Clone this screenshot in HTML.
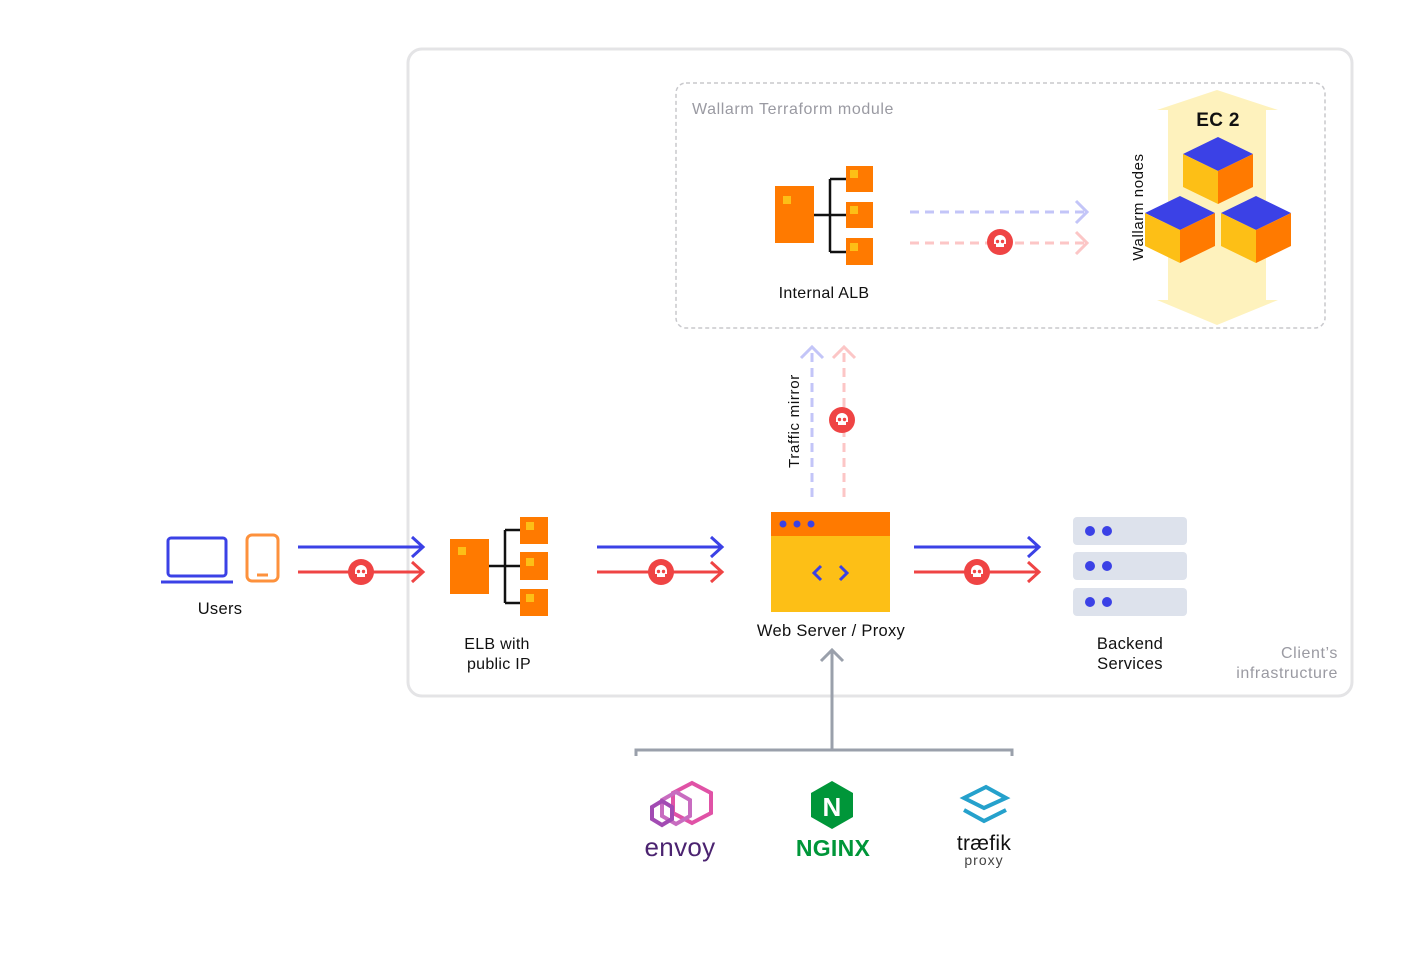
<!DOCTYPE html>
<html><head><meta charset="utf-8"><style>
body{margin:0;background:#fff}
svg text{font-family:"Liberation Sans",sans-serif;letter-spacing:0.3px}
</style></head><body>
<svg width="1422" height="956" viewBox="0 0 1422 956" xmlns="http://www.w3.org/2000/svg">
<defs>
<g id="skull">
<circle r="13" fill="#ef4444"/>
<path d="M-6,-1 a6,6 0 1 1 12,0 v3 h-2 v3 h-8 v-3 h-2z" fill="#fff"/>
<circle cx="-2.5" cy="-0.5" r="1.7" fill="#ef4444"/>
<circle cx="2.5" cy="-0.5" r="1.7" fill="#ef4444"/>
</g>
<g id="cube">
<polygon points="0,0 35,17 0,34 -35,17" fill="#3b41e6"/>
<polygon points="-35,17 0,34 0,67 -35,50" fill="#fdbf16"/>
<polygon points="35,17 0,34 0,67 35,50" fill="#ff7a00"/>
</g>
</defs>
<rect x="408" y="49" width="944" height="647" rx="14" fill="none" stroke="#e4e4e6" stroke-width="3"/>
<rect x="676" y="83" width="649" height="245" rx="10" fill="none" stroke="#c8c8cc" stroke-width="1.5" stroke-dasharray="4 3"/>
<text x="692" y="114" font-size="16" fill="#9a9aa2" style="letter-spacing:0.6px">Wallarm Terraform module</text>
<text x="1338" y="658" font-size="16" fill="#9a9aa2" text-anchor="end" style="letter-spacing:0.6px">Client’s</text>
<text x="1338" y="678" font-size="16" fill="#9a9aa2" text-anchor="end" style="letter-spacing:0.6px">infrastructure</text>

<path d="M814,215 H830 M830,179 V252 M830,179 H846 M830,215 H846 M830,252 H846" stroke="#111" stroke-width="2.5" fill="none"/>
<rect x="775" y="186" width="39" height="57" fill="#ff7a00"/>
<rect x="783" y="196" width="8" height="8" fill="#fdbf16"/>
<rect x="846" y="166" width="27" height="26" fill="#ff7a00"/><rect x="850" y="170" width="8" height="8" fill="#fdbf16"/>
<rect x="846" y="202" width="27" height="26" fill="#ff7a00"/><rect x="850" y="206" width="8" height="8" fill="#fdbf16"/>
<rect x="846" y="238" width="27" height="27" fill="#ff7a00"/><rect x="850" y="243" width="8" height="8" fill="#fdbf16"/>
<text x="824" y="298" font-size="16" fill="#111" text-anchor="middle">Internal ALB</text>

<path d="M910,212 H1086" stroke="#c3c5f8" stroke-width="3" stroke-dasharray="9 6" fill="none"/>
<path d="M1076,201 L1087,212 L1076,223" stroke="#c3c5f8" stroke-width="3" fill="none"/>
<path d="M910,243 H1086" stroke="#fcc6c6" stroke-width="3" stroke-dasharray="9 6" fill="none"/>
<path d="M1076,232 L1087,243 L1076,254" stroke="#fcc6c6" stroke-width="3" fill="none"/>
<use href="#skull" x="1000" y="242"/>

<polygon points="1217,90 1278,110 1266,110 1266,300 1278,300 1217,325 1157,300 1168,300 1168,110 1157,110" fill="#fef2bd"/>
<text x="1218" y="126" font-size="19" font-weight="bold" fill="#111" text-anchor="middle">EC 2</text>
<use href="#cube" x="1218" y="137"/>
<use href="#cube" x="1180" y="196"/>
<use href="#cube" x="1256" y="196"/>
<text transform="translate(1143,207) rotate(-90)" font-size="15" fill="#111" text-anchor="middle" style="letter-spacing:0.6px">Wallarm nodes</text>

<path d="M812,497 V350" stroke="#c3c5f8" stroke-width="3" stroke-dasharray="9 6" fill="none"/>
<path d="M801,358 L812,347 L823,358" stroke="#c3c5f8" stroke-width="3" fill="none"/>
<path d="M844,497 V350" stroke="#fcc6c6" stroke-width="3" stroke-dasharray="9 6" fill="none"/>
<path d="M833,358 L844,347 L855,358" stroke="#fcc6c6" stroke-width="3" fill="none"/>
<use href="#skull" x="842" y="420"/>
<text transform="translate(799,421) rotate(-90)" font-size="15" fill="#111" text-anchor="middle" style="letter-spacing:0.7px">Traffic mirror</text>

<rect x="168" y="538" width="58" height="38" rx="3" fill="none" stroke="#3b41e6" stroke-width="3"/>
<path d="M161,582 H233" stroke="#3b41e6" stroke-width="3"/>
<rect x="247" y="535" width="31" height="46" rx="5" fill="none" stroke="#fd913c" stroke-width="3"/>
<path d="M257,575 H268" stroke="#fd913c" stroke-width="3"/>
<text x="220" y="614" font-size="16.5" fill="#111" text-anchor="middle">Users</text>

<g fill="none" stroke-width="3">
<path d="M298,547 H422 M412,537 L423,547 L412,557" stroke="#3b41e6"/>
<path d="M298,572 H422 M412,562 L423,572 L412,582" stroke="#ef4444"/>
<path d="M597,547 H721 M711,537 L722,547 L711,557" stroke="#3b41e6"/>
<path d="M597,572 H721 M711,562 L722,572 L711,582" stroke="#ef4444"/>
<path d="M914,547 H1038 M1028,537 L1039,547 L1028,557" stroke="#3b41e6"/>
<path d="M914,572 H1038 M1028,562 L1039,572 L1028,582" stroke="#ef4444"/>
</g>
<use href="#skull" x="361" y="572"/>
<use href="#skull" x="661" y="572"/>
<use href="#skull" x="977" y="572"/>

<path d="M489,566 H505 M505,530 V603 M505,530 H520 M505,566 H520 M505,603 H520" stroke="#111" stroke-width="2.5" fill="none"/>
<rect x="450" y="539" width="39" height="55" fill="#ff7a00"/>
<rect x="458" y="547" width="8" height="8" fill="#fdbf16"/>
<rect x="520" y="517" width="28" height="27" fill="#ff7a00"/><rect x="526" y="522" width="8" height="8" fill="#fdbf16"/>
<rect x="520" y="552" width="28" height="28" fill="#ff7a00"/><rect x="526" y="558" width="8" height="8" fill="#fdbf16"/>
<rect x="520" y="589" width="28" height="27" fill="#ff7a00"/><rect x="526" y="594" width="8" height="8" fill="#fdbf16"/>
<text x="497" y="649" font-size="16" fill="#111" text-anchor="middle">ELB with</text>
<text x="499" y="669" font-size="16" fill="#111" text-anchor="middle">public IP</text>

<rect x="771" y="512" width="119" height="100" fill="#fdbf16"/>
<rect x="771" y="512" width="119" height="24" fill="#ff7a00"/>
<circle cx="783" cy="524" r="3.5" fill="#3b41e6"/><circle cx="797" cy="524" r="3.5" fill="#3b41e6"/><circle cx="811" cy="524" r="3.5" fill="#3b41e6"/>
<path d="M821,566 L814,573 L821,580 M840,566 L847,573 L840,580" stroke="#3b41e6" stroke-width="3" fill="none"/>
<text x="831" y="636" font-size="16.5" fill="#111" text-anchor="middle">Web Server / Proxy</text>

<rect x="1073" y="517" width="114" height="28" rx="4" fill="#dde2ec"/>
<rect x="1073" y="552" width="114" height="28" rx="4" fill="#dde2ec"/>
<rect x="1073" y="588" width="114" height="28" rx="4" fill="#dde2ec"/>
<g fill="#3b41e6">
<circle cx="1090" cy="531" r="5"/><circle cx="1107" cy="531" r="5"/>
<circle cx="1090" cy="566" r="5"/><circle cx="1107" cy="566" r="5"/>
<circle cx="1090" cy="602" r="5"/><circle cx="1107" cy="602" r="5"/>
</g>
<text x="1130" y="649" font-size="16.5" fill="#111" text-anchor="middle">Backend</text>
<text x="1130" y="669" font-size="16.5" fill="#111" text-anchor="middle">Services</text>

<path d="M832,652 V750 M821,661 L832,650 L843,661 M636,756 V750 H1012 V756" stroke="#9aa0ab" stroke-width="3" fill="none"/>

<g fill="none" stroke-width="4">
<polygon points="692,783 711,793 711,813 692,823 673,813 673,793" stroke="#e052a6"/>
<polygon points="676,792 690,800 690,816 676,824 662,816 662,800" stroke="#c86cc0"/>
<polygon points="662,801 672,807 672,819 662,825 652,819 652,807" stroke="#a24bb3"/>
</g>
<text x="680" y="856" font-size="26" fill="#4b2370" text-anchor="middle">envoy</text>
<polygon points="832,781 853,793 853,817 832,829 811,817 811,793" fill="#009639"/>
<text x="832" y="816" font-size="26" font-weight="bold" fill="#fff" text-anchor="middle">N</text>
<text x="833" y="856" font-size="23" font-weight="bold" fill="#009639" text-anchor="middle">NGINX</text>
<g fill="none" stroke="#25a1cc" stroke-width="4">
<path d="M986,787 L964,798 L984,808 L1006,798 Z"/>
<path d="M964,810 L984,821 L1006,810"/>
</g>
<text x="984" y="850" font-size="21" fill="#111" text-anchor="middle">træfik</text>
<text x="984" y="865" font-size="14" fill="#444" text-anchor="middle" style="letter-spacing:1px">proxy</text>
</svg>
</body></html>
